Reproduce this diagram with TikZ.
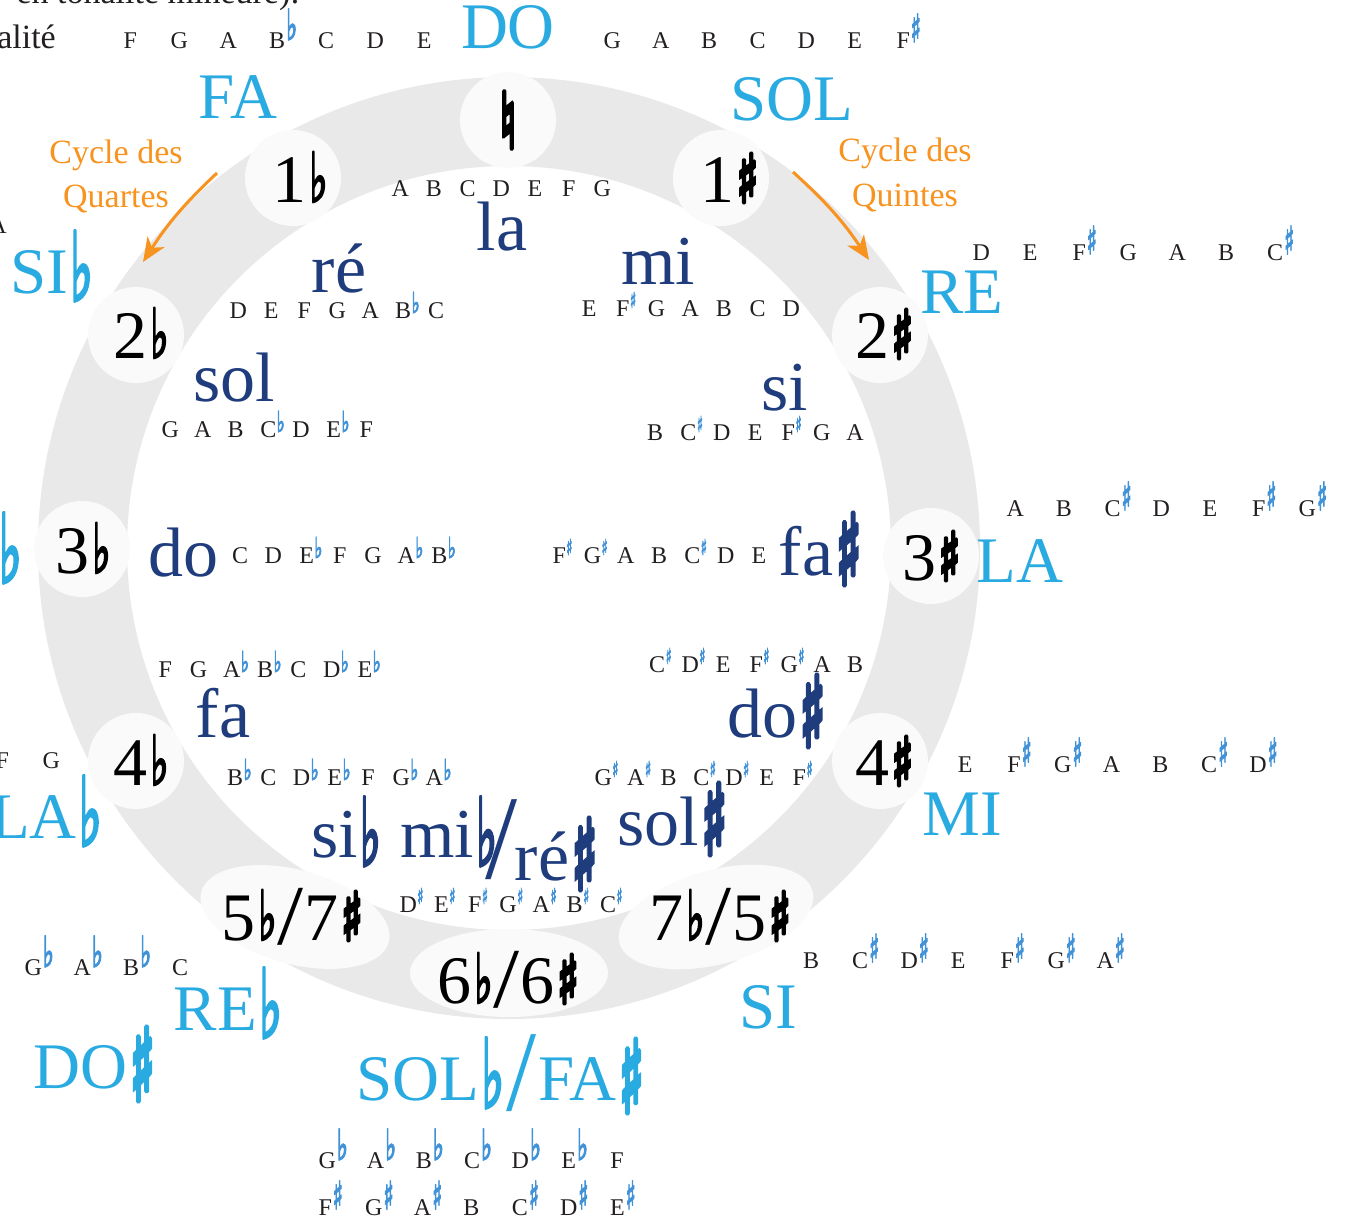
\documentclass[tikz,border=0pt]{standalone}
\usepackage{fontspec}
\setmainfont{Liberation Serif}
\newfontfamily\symfH{DejaVu Sans}[FakeBold=7]
\newfontfamily\symfM{DejaVu Sans}[FakeBold=4]
\newfontfamily\symfS{DejaVu Sans}[FakeBold=4]
\usepackage{graphicx}
\usetikzlibrary{arrows.meta,shapes.geometric}
\definecolor{cyanK}{RGB}{41,170,225}
\definecolor{navyK}{RGB}{31,60,125}
\definecolor{orngK}{RGB}{247,147,30}
\definecolor{accK}{RGB}{66,146,216}
\definecolor{grayT}{RGB}{35,31,32}
\definecolor{ringK}{RGB}{233,233,233}
\definecolor{discK}{RGB}{250,250,250}
\newlength{\cw}
\newcommand{\Cell}[1]{\makebox[\cw][c]{#1}}
\newcommand{\Gly}[4]{\raisebox{#4pt}{\resizebox*{#2pt}{#3pt}{\raisebox{\depth}{\normalsize #1}}}}
\newcommand{\SH}{{\symfH ♯}}
\newcommand{\FL}{{\symfM ♭}}
\newcommand{\SHs}{{\symfS ♯}}
\newcommand{\FLs}{{\symfS ♭}}
% scale accidentals (zero width)
\newcommand{\Osh}{\rlap{\kern1pt\textcolor{accK}{\Gly{\SHs}{10}{28}{6}}}}
\newcommand{\Ofl}{\rlap{\kern1pt\textcolor{accK}{\Gly{\FLs}{11}{31}{8}}}}
\newcommand{\Ish}{\rlap{\kern0.5pt\textcolor{accK}{\Gly{\SHs}{6}{16}{8}}}}
\newcommand{\Ifl}{\rlap{\kern0.5pt\textcolor{accK}{\Gly{\FLs}{8}{21}{5}}}}
% label accidentals
\newcommand{\Lsh}{\kern3pt\Gly{\SH}{24}{72}{-12}}
\newcommand{\Lfl}{\kern2pt\Gly{\FL}{23}{70}{-8}}
\newcommand{\Msh}{\kern3pt\Gly{\SH}{25}{70}{-9}}
\newcommand{\Mfl}{\kern2pt\Gly{\FL}{21}{69}{-9}}
\newcommand{\Lsl}{\kern2pt\Gly{/}{30}{77}{-12}\kern2pt}
% number accidentals
\newcommand{\Nsh}{\kern3pt\Gly{\SH}{21}{48}{0}}
\newcommand{\Nfl}{\kern3pt\Gly{\FL}{18}{50}{0}}
\newcommand{\Nsl}{\kern1pt\Gly{/}{26}{57}{-5}\kern1pt}
\tikzset{
  disc/.style={circle, fill=discK, minimum size=96pt, inner sep=0pt},
  oval/.style={ellipse, fill=discK, inner sep=0pt},
  majk/.style={text=cyanK, font=\fontsize{65}{65}\selectfont, inner sep=0pt, anchor=base},
  mink/.style={text=navyK, font=\fontsize{70}{70}\selectfont, inner sep=0pt, anchor=base},
  numk/.style={text=black, font=\fontsize{68}{68}\selectfont, inner sep=0pt, anchor=base},
  scl/.style={text=grayT, font=\fontsize{24}{24}\selectfont, inner sep=0pt, anchor=base west},
  cyc/.style={text=orngK, font=\fontsize{34}{34}\selectfont, inner sep=0pt, anchor=base},
  prose/.style={text=grayT, font=\fontsize{34}{34}\selectfont, inner sep=0pt, anchor=base east},
  arr/.style={draw=orngK, line width=3pt, -{Stealth[length=24pt,width=20pt,inset=7pt]}},
}
\begin{document}
\begin{tikzpicture}[x=1pt,y=-1pt]
\useasboundingbox (0,0) rectangle (1362,1226);
\clip (0,0) rectangle (1362,1226);
\coordinate (ctr) at (509,548);
\fill[ringK, even odd rule] (ctr) circle[radius=471pt] (ctr) circle[radius=382pt];

% white discs on the ring
\node[disc] (dN) at (508,120) {};
\node[disc] (dS1) at (721,178) {};
\node[disc] (dF1) at (293,178) {};
\node[disc] (dS2) at (880,335) {};
\node[disc] (dF2) at (136,335) {};
\node[disc] (dS3) at (931,556) {};
\node[disc] (dF3) at (82,549) {};
\node[disc] (dS4) at (880,761) {};
\node[disc] (dF4) at (136,761) {};
\node[oval, minimum width=194pt, minimum height=94pt, rotate=-15] (dF5) at (295,917) {};
\node[oval, minimum width=198pt, minimum height=88pt] (dF6) at (509,973) {};
\node[oval, minimum width=200pt, minimum height=94pt, rotate=15] (dS5) at (716,917) {};

% orange cycle arrows
\node[cyc] (cq1) at (116,163) {Cycle des};
\node[cyc] (cq2) at (116,207) {Quartes};
\node[cyc] (cf1) at (905,161) {Cycle des};
\node[cyc] (cf2) at (905,206) {Quintes};
\coordinate (qa) at (217,173);
\coordinate (qb) at (143,262);
\coordinate (fa) at (793,172);
\coordinate (fb) at (869,260);
\draw[arr] (qa) to[bend right=7] (qb);
\draw[arr] (fa) to[bend left=7] (fb);

% prose fragments at top left
\node[prose] (p1) at (300,3) {en tonalité mineure):};
\node[prose] (p2) at (56,48) {alité};

% key signature numbers
\node[numk, anchor=center] (kN) at (508,120) {\Gly{{\symfH ♮}}{16}{56}{0}};
\node[numk] (k1f) at (300,202) {1\Nfl};
\node[numk] (k1s) at (729,202) {1\Nsh};
\node[numk] (k2f) at (141,358) {2\Nfl};
\node[numk] (k2s) at (884,358) {2\Nsh};
\node[numk] (k3f) at (83,573) {3\Nfl};
\node[numk] (k3s) at (931,580) {3\Nsh};
\node[numk] (k4f) at (141,785) {4\Nfl};
\node[numk] (k4s) at (884,785) {4\Nsh};
\node[numk] (k5f) at (292,940) {5\Nfl\Nsl 7\Nsh};
\node[numk] (k6) at (508,1003) {6\Nfl\Nsl 6\Nsh};
\node[numk] (k5s) at (720,940) {7\Nfl\Nsl 5\Nsh};

% major keys
\node[majk] (mDO) at (508,48) {DO};
\node[majk] (mFA) at (238,118) {FA};
\node[majk] (mSOL) at (792,120) {SOL};
\node[majk] (mRE) at (962,313) {RE};
\node[majk] (mLA) at (1020,582) {LA};
\node[majk] (mMI) at (962,835) {MI};
\node[majk] (mSI) at (768,1028) {SI};
\node[majk] (mSOLb) at (500,1100) {SOL\Lfl\Lsl FA\Lsh};
\node[majk] (mREb) at (228,1030) {RE\Lfl};
\node[majk] (mDOs) at (94,1088) {DO\Lsh};
\node[majk, anchor=base west] (mSIb) at (10,293) {SI\Lfl};
\node[majk, anchor=base east] (mLAb) at (102,838) {LA\Lfl};
\node[majk, anchor=base east] (mMIb) at (22,575) {MI\Lfl};

% minor keys
\node[mink] (nla) at (502,250) {la};
\node[mink] (nre) at (339,292) {ré};
\node[mink] (nmi) at (658,284) {mi};
\node[mink] (nsol) at (234,401) {sol};
\node[mink] (nsi) at (785,410) {si};
\node[mink] (ndo) at (183,576) {do};
\node[mink] (nfas) at (820,575) {fa\Msh};
\node[mink] (nfa) at (223,737) {fa};
\node[mink] (ndos) at (776,737) {do\Msh};
\node[mink] (nsib) at (346,857) {si\Mfl};
\node[mink, anchor=base west] (nmib) at (400,857) {mi\Mfl\kern-12pt\Gly{/}{32}{80}{-23}};
\node[mink] (nres) at (556,880) {ré\Msh};
\node[mink] (nsols) at (672,845) {sol\Msh};

% outer (major) scales
\node[scl] (o1) at (105.5,48) {\setlength{\cw}{49pt}\Cell{F}\Cell{G}\Cell{A}\Cell{B\Ofl}\Cell{C}\Cell{D}\Cell{E}};
\node[scl] (o2) at (587.75,48) {\setlength{\cw}{48.5pt}\Cell{G}\Cell{A}\Cell{B}\Cell{C}\Cell{D}\Cell{E}\Cell{F\Osh}};
\node[scl] (o3) at (956.5,260) {\setlength{\cw}{49pt}\Cell{D}\Cell{E}\Cell{F\Osh}\Cell{G}\Cell{A}\Cell{B}\Cell{C\Osh}};
\node[scl] (o4) at (990.65,516) {\setlength{\cw}{48.7pt}\Cell{A}\Cell{B}\Cell{C\Osh}\Cell{D}\Cell{E}\Cell{F\Osh}\Cell{G\Osh}};
\node[scl] (o5) at (940.6,772) {\setlength{\cw}{48.8pt}\Cell{E}\Cell{F\Osh}\Cell{G\Osh}\Cell{A}\Cell{B}\Cell{C\Osh}\Cell{D\Osh}};
\node[scl] (o6) at (786.5,968) {\setlength{\cw}{49pt}\Cell{B}\Cell{C\Osh}\Cell{D\Osh}\Cell{E}\Cell{F\Osh}\Cell{G\Osh}\Cell{A\Osh}};
\node[scl] (o7) at (302.85,1168) {\setlength{\cw}{48.3pt}\Cell{G\Ofl}\Cell{A\Ofl}\Cell{B\Ofl}\Cell{C\Ofl}\Cell{D\Ofl}\Cell{E\Ofl}\Cell{F}};
\node[scl] (o8) at (300.65,1215) {\setlength{\cw}{48.7pt}\Cell{F\Osh}\Cell{G\Osh}\Cell{A\Osh}\Cell{B}\Cell{C\Osh}\Cell{D\Osh}\Cell{E\Osh}};
\node[scl] (o9) at (8.5,975) {\setlength{\cw}{49pt}\Cell{G\Ofl}\Cell{A\Ofl}\Cell{B\Ofl}\Cell{C}};
\node[scl] (o10) at (-22.5,768) {\setlength{\cw}{49pt}\Cell{F}\Cell{G}};
\node[scl, anchor=base east] (o11) at (7,233) {A};

% inner (minor) scales
\node[scl] (i1) at (383.15,196) {\setlength{\cw}{33.7pt}\Cell{A}\Cell{B}\Cell{C}\Cell{D}\Cell{E}\Cell{F}\Cell{G}};
\node[scl] (i2) at (221.5,318) {\setlength{\cw}{33pt}\Cell{D}\Cell{E}\Cell{F}\Cell{G}\Cell{A}\Cell{B\Ifl}\Cell{C}};
\node[scl] (i3) at (572.15,316) {\setlength{\cw}{33.7pt}\Cell{E}\Cell{F\Ish}\Cell{G}\Cell{A}\Cell{B}\Cell{C}\Cell{D}};
\node[scl] (i4) at (153.65,437) {\setlength{\cw}{32.7pt}\Cell{G}\Cell{A}\Cell{B}\Cell{C\Ifl}\Cell{D}\Cell{E\Ifl}\Cell{F}};
\node[scl] (i5) at (638.35,440) {\setlength{\cw}{33.3pt}\Cell{B}\Cell{C\Ish}\Cell{D}\Cell{E}\Cell{F\Ish}\Cell{G}\Cell{A}};
\node[scl] (i6) at (223.4,563) {\setlength{\cw}{33.2pt}\Cell{C}\Cell{D}\Cell{E\Ifl}\Cell{F}\Cell{G}\Cell{A\Ifl}\Cell{B\Ifl}};
\node[scl] (i7) at (542.35,563) {\setlength{\cw}{33.3pt}\Cell{F\Ish}\Cell{G\Ish}\Cell{A}\Cell{B}\Cell{C\Ish}\Cell{D}\Cell{E}};
\node[scl] (i8) at (148.35,677) {\setlength{\cw}{33.3pt}\Cell{F}\Cell{G}\Cell{A\Ifl}\Cell{B\Ifl}\Cell{C}\Cell{D\Ifl}\Cell{E\Ifl}};
\node[scl] (i9) at (640.5,672) {\setlength{\cw}{33pt}\Cell{C\Ish}\Cell{D\Ish}\Cell{E}\Cell{F\Ish}\Cell{G\Ish}\Cell{A}\Cell{B}};
\node[scl] (i10) at (218.4,785) {\setlength{\cw}{33.2pt}\Cell{B\Ifl}\Cell{C}\Cell{D\Ifl}\Cell{E\Ifl}\Cell{F}\Cell{G\Ifl}\Cell{A\Ifl}};
\node[scl] (i11) at (586.65,785) {\setlength{\cw}{32.7pt}\Cell{G\Ish}\Cell{A\Ish}\Cell{B}\Cell{C\Ish}\Cell{D\Ish}\Cell{E}\Cell{F\Ish}};
\node[scl] (i12) at (391.35,912) {\setlength{\cw}{33.3pt}\Cell{D\Ish}\Cell{E\Ish}\Cell{F\Ish}\Cell{G\Ish}\Cell{A\Ish}\Cell{B\Ish}\Cell{C\Ish}};
\end{tikzpicture}
\end{document}
